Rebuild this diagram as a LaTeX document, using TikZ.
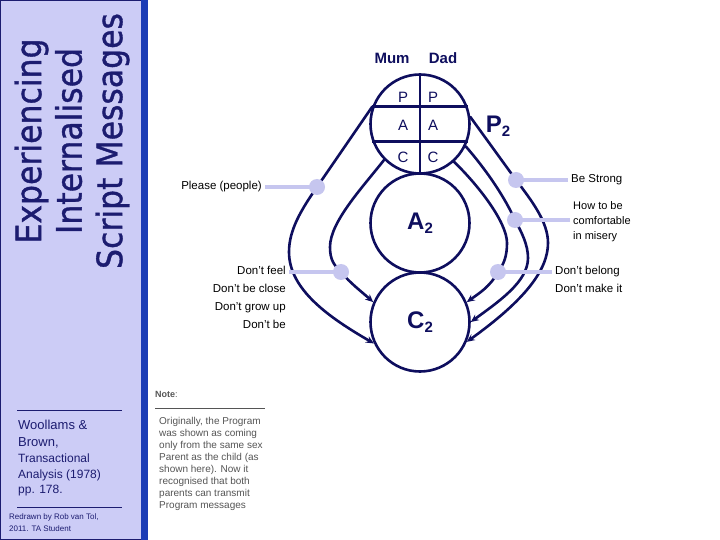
\documentclass[tikz,border=0pt]{standalone}
\usepackage{fontspec}
\setmainfont{Liberation Sans}
\newfontfamily\headfont[FakeStretch=0.9, FakeBold=1]{DejaVu Sans}
\usetikzlibrary{arrows.meta,positioning}
\definecolor{navy}{HTML}{0E0E5E}
\definecolor{titleink}{HTML}{1C1C70}
\definecolor{panel}{HTML}{CCCCF6}
\definecolor{barblue}{HTML}{1B3CB6}
\definecolor{lilac}{HTML}{C6C6EF}
\definecolor{noteink}{HTML}{555555}
\newcommand{\egostate}[1]{#1\raisebox{-0.35ex}{\fontsize{15bp}{15bp}\selectfont 2}}

\begin{document}
\begin{tikzpicture}[x=1bp, y=-1bp,
    ring/.style={circle, draw=navy, line width=2.6bp, minimum size=99bp, inner sep=0pt,
      font=\bfseries\fontsize{24bp}{24bp}\selectfont, text=navy},
    cell/.style={font=\fontsize{15bp}{15bp}\selectfont, text=navy, inner sep=0pt},
    script/.style={navy, line width=2.6bp, line cap=round, -{Stealth[length=8bp, width=7bp]}},
    tag/.style={circle, fill=lilac, inner sep=0pt, minimum size=16bp},
    tagline/.style={lilac, line width=3.5bp},
    msg/.style={font=\fontsize{11.5bp}{14bp}\selectfont, inner xsep=3bp, inner ysep=3.45bp,
      text height=8bp, text depth=2.5bp}]
  \useasboundingbox (0,0) rectangle (720,540);
  \fill[white] (0,0) rectangle (720,540);

  % side panel
  \filldraw[fill=panel, draw=titleink, line width=0.8bp] (0.4,0.4) rectangle (141,539.6);
  \fill[barblue] (141,0) rectangle (148,540);
  \node[rotate=90, align=center, text=titleink, font=\headfont\fontsize{35bp}{40.5bp}\selectfont]
    (title) at (72,141) {Experiencing\\Internalised\\Script Messages};

  % source
  \draw[titleink, line width=0.9bp] (17,410) -- (122,410);
  \node[anchor=north west, inner sep=0pt, align=left, text=titleink,
    font=\fontsize{13bp}{17bp}\selectfont] (author) at (18,420) {Woollams \&\\Brown,};
  \node[anchor=north west, inner sep=0pt, align=left, text=titleink,
    font=\fontsize{12bp}{15.5bp}\selectfont] (book) at (18,454) {Transactional\\Analysis (1978)\\pp. 178.};
  \draw[titleink, line width=0.9bp] (17,507) -- (122,507);
  \node[anchor=north west, inner sep=0pt, align=left, text=titleink,
    font=\fontsize{8bp}{12bp}\selectfont] (credit) at (9,513) {Redrawn by Rob van Tol,\\2011. TA Student};

  % note
  \node[anchor=west, inner sep=0pt, text=noteink, font=\fontsize{9bp}{9bp}\selectfont]
    (note) at (155,394) {{\bfseries Note}:};
  \draw[noteink, line width=0.7bp] (155,408) -- (265,408);
  \node[anchor=north west, inner sep=0pt, align=left, text=noteink,
    font=\fontsize{10bp}{12bp}\selectfont] (notetext) at (159,417)
    {Originally, the Program\\was shown as coming\\only from the same sex\\Parent as the child (as\\
     shown here). Now it\\recognised that both\\parents can transmit\\Program messages};

  % ego states
  \node[ring] (P) at (420,124) {};
  \node[ring] (A) at (420,223) {\egostate{A}};
  \node[ring] (C) at (420,322) {\egostate{C}};
  \draw[navy, line width=2.6bp] (P.north) -- (P.south);
  \draw[navy, line width=2.6bp] (P.160) -- (P.20);
  \draw[navy, line width=2.6bp] (P.200) -- (P.340);
  \foreach \s/\y in {P/97, A/125, C/157}{
    \node[cell] (mum\s) at (403,\y) {\s};
    \node[cell] (dad\s) at (433,\y) {\s};
  }
  \node[text=navy, font=\bfseries\fontsize{15bp}{15bp}\selectfont] (mum) at (392,58) {Mum};
  \node[text=navy, font=\bfseries\fontsize{15bp}{15bp}\selectfont] (dad) at (443,58) {Dad};
  \node[text=navy, font=\bfseries\fontsize{24bp}{24bp}\selectfont] (ptwo) at (498,126) {\egostate{P}};

  % message points
  \coordinate (d1) at (317,187);
  \coordinate (d2) at (341,272);
  \coordinate (d3) at (516,180);
  \coordinate (d4) at (515,220);
  \coordinate (d5) at (498,272);

  % script lines
  \draw[script] (P.160) -- (d1) .. controls (301,210) and (289,230) .. (289,252)
    .. controls (289,290) and (330,318) .. (C.205);
  \draw[script] (P.225) .. controls (362,188) and (330,222) .. (330,247)
    .. controls (330,260) and (334,265) .. (d2) .. controls (350,283) and (362,292) .. (C.157);
  \draw[script] (P.8) -- (d3) .. controls (532,201) and (548,222) .. (548,243)
    .. controls (548,270) and (525,300) .. (C.337);
  \draw[script] (P.334) .. controls (488,172) and (505,198) .. (d4)
    .. controls (522,233) and (528,245) .. (528,258) .. controls (528,282) and (498,302) .. (C.0);
  \draw[script] (P.312) .. controls (478,185) and (507,222) .. (507,243)
    .. controls (507,256) and (504,264) .. (d5) .. controls (490,287) and (478,294) .. (C.23);

  % messages
  \node[msg, anchor=east] (please) at (265,187) {Please (people)};
  \node[msg, anchor=east] (feel) at (289,272) {Don’t feel};
  \node[msg, anchor=north east] (close) at (feel.south east) {Don’t be close};
  \node[msg, anchor=north east] (growup) at (close.south east) {Don’t grow up};
  \node[msg, anchor=north east] (dontbe) at (growup.south east) {Don’t be};
  \node[msg, anchor=west] (strong) at (568,180) {Be Strong};
  \node[anchor=west, align=left, inner sep=3bp, font=\fontsize{11bp}{15bp}\selectfont]
    (misery) at (570,222) {How to be\\comfortable\\in misery};
  \node[msg, anchor=west] (belong) at (552,272) {Don’t belong};
  \node[msg, anchor=north west] (makeit) at (belong.south west) {Don’t make it};

  \draw[tagline] (d1) -- (please.east);
  \draw[tagline] (d2) -- (feel.east);
  \draw[tagline] (d3) -- (strong.west);
  \draw[tagline] (d4) -- (misery.west |- d4);
  \draw[tagline] (d5) -- (belong.west);
  \foreach \d in {d1,d2,d3,d4,d5}{
    \node[tag] (\d dot) at (\d) {};
  }
\end{tikzpicture}
\end{document}
